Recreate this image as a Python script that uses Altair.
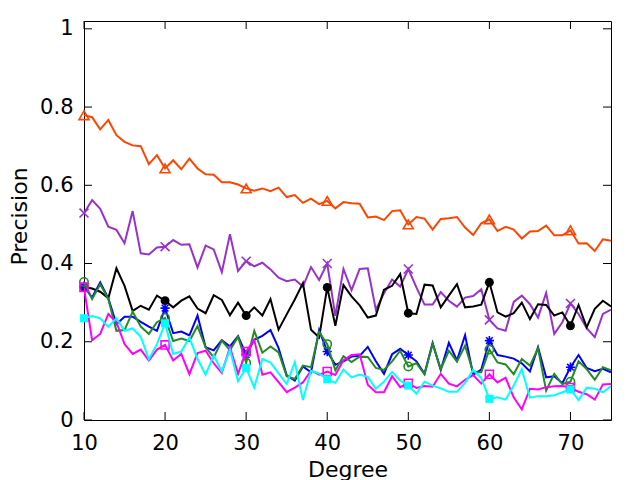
import altair as alt
import pandas as pd

# Degree values on the x axis (one sample per integer degree)
degrees = list(range(10, 76))

# Precision per degree, one list per method
prec_orange = [0.779, 0.774, 0.743, 0.767, 0.728, 0.711, 0.702, 0.700, 0.654, 0.677,
               0.643, 0.664, 0.641, 0.668, 0.643, 0.628, 0.627, 0.608, 0.608, 0.602,
               0.592, 0.586, 0.592, 0.585, 0.594, 0.570, 0.575, 0.555, 0.566, 0.552,
               0.560, 0.541, 0.557, 0.554, 0.553, 0.518, 0.520, 0.511, 0.534, 0.536,
               0.500, 0.519, 0.515, 0.487, 0.514, 0.516, 0.519, 0.492, 0.473, 0.503,
               0.513, 0.483, 0.494, 0.487, 0.464, 0.482, 0.483, 0.497, 0.472, 0.472,
               0.485, 0.451, 0.452, 0.432, 0.462, 0.458]
prec_purple = [0.529, 0.562, 0.540, 0.494, 0.486, 0.452, 0.534, 0.426, 0.423, 0.441,
               0.443, 0.460, 0.448, 0.449, 0.390, 0.446, 0.436, 0.378, 0.475, 0.381,
               0.406, 0.393, 0.402, 0.385, 0.364, 0.355, 0.359, 0.341, 0.391, 0.358,
               0.400, 0.266, 0.386, 0.332, 0.386, 0.388, 0.282, 0.324, 0.359, 0.341,
               0.386, 0.339, 0.295, 0.295, 0.327, 0.305, 0.290, 0.313, 0.317, 0.334,
               0.256, 0.234, 0.228, 0.302, 0.318, 0.296, 0.262, 0.325, 0.220, 0.250,
               0.298, 0.271, 0.235, 0.212, 0.271, 0.282]
prec_black = [0.340, 0.336, 0.328, 0.311, 0.388, 0.343, 0.279, 0.292, 0.282, 0.318,
              0.305, 0.288, 0.305, 0.316, 0.285, 0.273, 0.319, 0.307, 0.268, 0.300,
              0.267, 0.288, 0.267, 0.309, 0.231, 0.270, 0.308, 0.350, 0.231, 0.211,
              0.339, 0.241, 0.345, 0.316, 0.293, 0.262, 0.267, 0.333, 0.343, 0.373,
              0.273, 0.271, 0.346, 0.344, 0.288, 0.318, 0.347, 0.288, 0.290, 0.295,
              0.352, 0.275, 0.264, 0.273, 0.300, 0.258, 0.296, 0.294, 0.267, 0.275,
              0.241, 0.294, 0.237, 0.284, 0.305, 0.290]
prec_blue = [0.342, 0.313, 0.352, 0.311, 0.245, 0.264, 0.264, 0.251, 0.239, 0.228,
             0.286, 0.222, 0.226, 0.216, 0.267, 0.186, 0.178, 0.204, 0.188, 0.214,
             0.167, 0.205, 0.215, 0.230, 0.184, 0.114, 0.101, 0.137, 0.122, 0.230,
             0.175, 0.141, 0.150, 0.162, 0.164, 0.187, 0.150, 0.118, 0.168, 0.182,
             0.166, 0.150, 0.118, 0.197, 0.128, 0.197, 0.152, 0.217, 0.116, 0.129,
             0.203, 0.166, 0.162, 0.157, 0.145, 0.124, 0.186, 0.109, 0.112, 0.094,
             0.135, 0.166, 0.133, 0.125, 0.131, 0.122]
prec_green = [0.353, 0.309, 0.347, 0.309, 0.228, 0.230, 0.277, 0.239, 0.220, 0.250,
              0.261, 0.202, 0.208, 0.202, 0.240, 0.186, 0.160, 0.203, 0.178, 0.213,
              0.146, 0.228, 0.172, 0.188, 0.173, 0.112, 0.105, 0.139, 0.135, 0.225,
              0.194, 0.127, 0.163, 0.148, 0.162, 0.161, 0.133, 0.128, 0.150, 0.177,
              0.137, 0.145, 0.117, 0.195, 0.130, 0.177, 0.149, 0.190, 0.122, 0.122,
              0.180, 0.147, 0.142, 0.117, 0.156, 0.139, 0.183, 0.075, 0.118, 0.092,
              0.098, 0.150, 0.130, 0.103, 0.135, 0.127]
prec_magenta = [0.339, 0.204, 0.220, 0.271, 0.250, 0.194, 0.169, 0.180, 0.152, 0.180,
                0.192, 0.152, 0.169, 0.117, 0.171, 0.177, 0.145, 0.120, 0.186, 0.118,
                0.175, 0.205, 0.116, 0.122, 0.097, 0.071, 0.083, 0.096, 0.126, 0.116,
                0.124, 0.115, 0.153, 0.166, 0.168, 0.090, 0.071, 0.071, 0.112, 0.084,
                0.094, 0.082, 0.087, 0.085, 0.118, 0.093, 0.086, 0.103, 0.115, 0.093,
                0.117, 0.096, 0.108, 0.058, 0.027, 0.080, 0.078, 0.084, 0.086, 0.087,
                0.083, 0.072, 0.066, 0.052, 0.091, 0.092]
prec_cyan = [0.260, 0.266, 0.260, 0.238, 0.260, 0.228, 0.234, 0.213, 0.155, 0.194,
             0.247, 0.169, 0.175, 0.211, 0.156, 0.116, 0.165, 0.124, 0.180, 0.099,
             0.133, 0.083, 0.156, 0.147, 0.119, 0.092, 0.148, 0.051, 0.126, 0.119,
             0.104, 0.095, 0.129, 0.109, 0.116, 0.110, 0.080, 0.098, 0.123, 0.101,
             0.088, 0.067, 0.098, 0.088, 0.081, 0.072, 0.072, 0.095, 0.128, 0.107,
             0.054, 0.058, 0.052, 0.088, 0.130, 0.057, 0.061, 0.061, 0.063, 0.071,
             0.078, 0.051, 0.082, 0.080, 0.071, 0.087]

x_ticks = [10, 20, 30, 40, 50, 60, 70]
y_ticks = [0, 0.2, 0.4, 0.6, 0.8, 1.0]

X_PATH = "M-1,-1L1,1M-1,1L1,-1"
STAR_PATH = "M-1,0L1,0M0,-1L0,1M-0.72,-0.72L0.72,0.72M-0.72,0.72L0.72,-0.72"

# name, values, colour, marker shape, filled, marker size
series = [
    ("m1", prec_orange, "#FF4500", "triangle-up", False, 100),
    ("m2", prec_purple, "#9932CC", X_PATH, False, 80),
    ("m3", prec_black, "#000000", "circle", True, 80),
    ("m4", prec_blue, "#0000FF", STAR_PATH, False, 85),
    ("m5", prec_green, "#228B22", "circle", False, 70),
    ("m6", prec_magenta, "#FF00FF", "square", False, 65),
    ("m7", prec_cyan, "#00FFFF", "square", True, 65),
]

W, H = 527, 399
x_scale = alt.Scale(domain=[10, 75], nice=False, zero=False)
y_scale = alt.Scale(domain=[0, 1.02], nice=False)

x_axis = alt.Axis(values=x_ticks, format="d", title="Degree", labelPadding=12,
                  labelFlush=False, titleY=56, titleBaseline="alphabetic")
y_axis = alt.Axis(values=y_ticks, format=".1~f", title="Precision", labelPadding=11,
                  labelFlush=False, titleX=-58, titleY=195,
                  titleBaseline="alphabetic", titleAngle=-90)

layers = []

# inward tick marks on all four sides
xt = pd.DataFrame({"t": x_ticks})
yt = pd.DataFrame({"t": y_ticks})
enc_x = alt.X("t:Q", scale=x_scale, axis=x_axis)
enc_y = alt.Y("t:Q", scale=y_scale, axis=y_axis)
layers.append(alt.Chart(xt).mark_rule(color="black", strokeWidth=1).encode(
    x=enc_x, y=alt.value(H), y2=alt.value(H - 8)))
layers.append(alt.Chart(xt).mark_rule(color="black", strokeWidth=1).encode(
    x=enc_x, y=alt.value(0), y2=alt.value(8)))
layers.append(alt.Chart(yt).mark_rule(color="black", strokeWidth=1).encode(
    y=enc_y, x=alt.value(0), x2=alt.value(8)))
layers.append(alt.Chart(yt).mark_rule(color="black", strokeWidth=1).encode(
    y=enc_y, x=alt.value(W), x2=alt.value(W - 8)))

for name, vals, color, shape, filled, size in series:
    df = pd.DataFrame({"degree": degrees, "value": vals})
    base = alt.Chart(df).encode(
        x=alt.X("degree:Q", scale=x_scale, axis=x_axis),
        y=alt.Y("value:Q", scale=y_scale, axis=y_axis),
    )
    layers.append(base.mark_line(color=color, strokeWidth=2, clip=True))
    pts = base.transform_filter("datum.degree % 10 == 0")
    if filled:
        layers.append(pts.mark_point(shape=shape, filled=True, color=color,
                                     size=size, opacity=1))
    else:
        layers.append(pts.mark_point(shape=shape, filled=False, color=color,
                                     size=size, strokeWidth=1.6, opacity=1))

chart = alt.layer(*layers).properties(
    width=W, height=H,
    autosize=alt.AutoSizeParams(type="none"),
    padding={"left": 84, "top": 21, "right": 29, "bottom": 60},
    background="white",
).configure_view(
    stroke="black", strokeWidth=1
).configure_axis(
    domain=False, ticks=False, grid=False,
    labelFont="DejaVu Sans", labelFontSize=21, labelColor="black",
    titleFont="DejaVu Sans", titleFontSize=22, titleFontWeight="normal",
    titleColor="black",
)

chart.save("out.html", embed_options={"renderer": "svg", "actions": False})
